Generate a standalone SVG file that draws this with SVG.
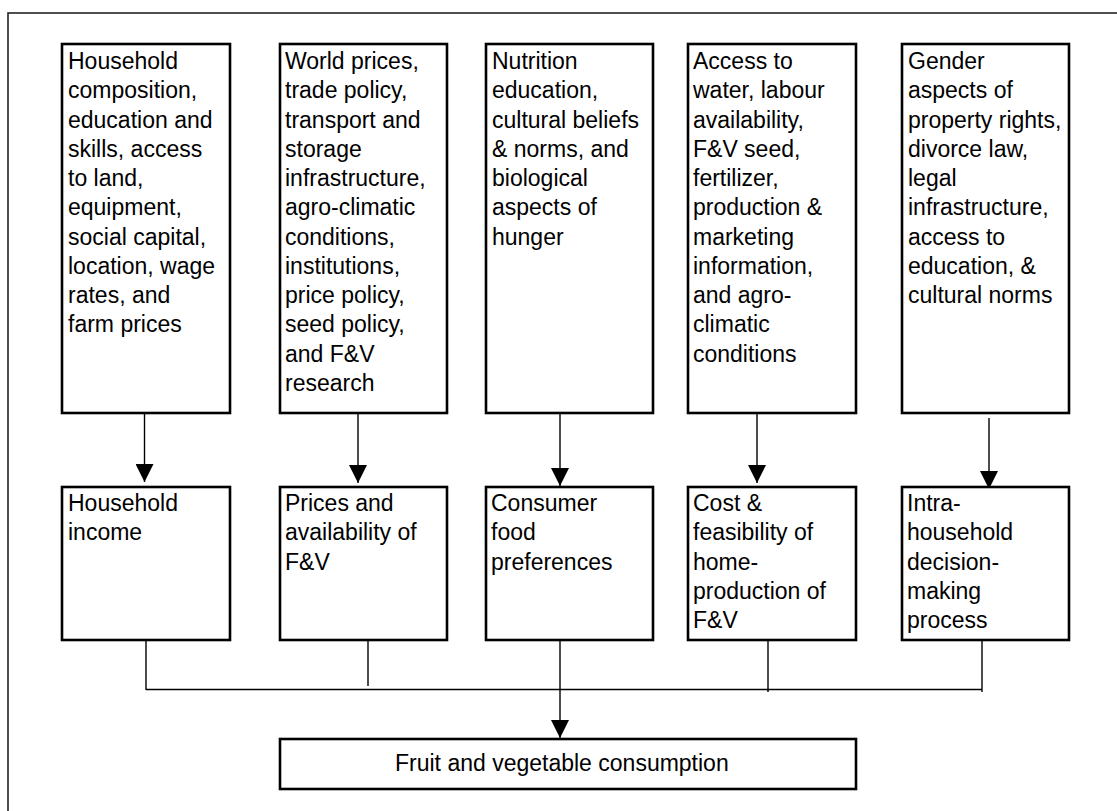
<svg xmlns="http://www.w3.org/2000/svg" width="1117" height="811" viewBox="0 0 1117 811">
<style>
.box{fill:#fff;stroke:#000;stroke-width:2.6}
.frame{fill:none;stroke:#222;stroke-width:1.6}
.t{font-family:"Liberation Sans",Arial,sans-serif;font-size:23px;fill:#000}
.c{fill:none;stroke:#000;stroke-width:1.4}
</style>
<defs>
<marker id="ah" markerUnits="userSpaceOnUse" markerWidth="18" markerHeight="18" refX="18" refY="9" orient="auto" viewBox="0 0 18 18">
<path d="M0,0 L18,9 L0,18 z" fill="#000"/>
</marker>
</defs>
<rect x="0" y="0" width="1117" height="811" fill="#fff"/>
<rect class="frame" x="8" y="13" width="1130" height="820"/>

<g id="connectors">
<line class="c" x1="144.5" y1="414" x2="144.5" y2="482" marker-end="url(#ah)"/>
<line class="c" x1="358" y1="414" x2="358" y2="483" marker-end="url(#ah)"/>
<line class="c" x1="560" y1="414" x2="560" y2="486" marker-end="url(#ah)"/>
<line class="c" x1="757" y1="414" x2="757" y2="483" marker-end="url(#ah)"/>
<line class="c" x1="989" y1="418" x2="989" y2="489" marker-end="url(#ah)"/>
<line class="c" x1="146" y1="640" x2="146" y2="690"/>
<line class="c" x1="368" y1="640" x2="368" y2="686"/>
<line class="c" x1="768" y1="640" x2="768" y2="692"/>
<line class="c" x1="982" y1="640" x2="982" y2="692"/>
<line class="c" x1="146" y1="689.5" x2="982" y2="689.5"/>
<line class="c" x1="560" y1="640" x2="560" y2="738" marker-end="url(#ah)"/>
</g>

<g id="top1">
<rect class="box" x="62" y="44" width="168" height="369"/>
<text class="t" x="68" y="69">
<tspan x="68" dy="0">Household</tspan>
<tspan x="68" dy="29.25">composition,</tspan>
<tspan x="68" dy="29.25">education and</tspan>
<tspan x="68" dy="29.25">skills, access</tspan>
<tspan x="68" dy="29.25">to land,</tspan>
<tspan x="68" dy="29.25">equipment,</tspan>
<tspan x="68" dy="29.25">social capital,</tspan>
<tspan x="68" dy="29.25">location, wage</tspan>
<tspan x="68" dy="29.25">rates, and</tspan>
<tspan x="68" dy="29.25">farm prices</tspan>
</text>
</g>

<g id="top2">
<rect class="box" x="280" y="44" width="167" height="369"/>
<text class="t" x="285" y="69">
<tspan x="285" dy="0">World prices,</tspan>
<tspan x="285" dy="29.25">trade policy,</tspan>
<tspan x="285" dy="29.25">transport and</tspan>
<tspan x="285" dy="29.25">storage</tspan>
<tspan x="285" dy="29.25">infrastructure,</tspan>
<tspan x="285" dy="29.25">agro-climatic</tspan>
<tspan x="285" dy="29.25">conditions,</tspan>
<tspan x="285" dy="29.25">institutions,</tspan>
<tspan x="285" dy="29.25">price policy,</tspan>
<tspan x="285" dy="29.25">seed policy,</tspan>
<tspan x="285" dy="29.25">and F&amp;V</tspan>
<tspan x="285" dy="29.25">research</tspan>
</text>
</g>

<g id="top3">
<rect class="box" x="486" y="44" width="167" height="369"/>
<text class="t" x="492" y="69">
<tspan x="492" dy="0">Nutrition</tspan>
<tspan x="492" dy="29.25">education,</tspan>
<tspan x="492" dy="29.25">cultural beliefs</tspan>
<tspan x="492" dy="29.25">&amp; norms, and</tspan>
<tspan x="492" dy="29.25">biological</tspan>
<tspan x="492" dy="29.25">aspects of</tspan>
<tspan x="492" dy="29.25">hunger</tspan>
</text>
</g>

<g id="top4">
<rect class="box" x="688" y="44" width="168" height="369"/>
<text class="t" x="693" y="69">
<tspan x="693" dy="0">Access to</tspan>
<tspan x="693" dy="29.25">water, labour</tspan>
<tspan x="693" dy="29.25">availability,</tspan>
<tspan x="693" dy="29.25">F&amp;V seed,</tspan>
<tspan x="693" dy="29.25">fertilizer,</tspan>
<tspan x="693" dy="29.25">production &amp;</tspan>
<tspan x="693" dy="29.25">marketing</tspan>
<tspan x="693" dy="29.25">information,</tspan>
<tspan x="693" dy="29.25">and agro-</tspan>
<tspan x="693" dy="29.25">climatic</tspan>
<tspan x="693" dy="29.25">conditions</tspan>
</text>
</g>

<g id="top5">
<rect class="box" x="902" y="44" width="167" height="369"/>
<text class="t" x="908" y="69">
<tspan x="908" dy="0">Gender</tspan>
<tspan x="908" dy="29.25">aspects of</tspan>
<tspan x="908" dy="29.25">property rights,</tspan>
<tspan x="908" dy="29.25">divorce law,</tspan>
<tspan x="908" dy="29.25">legal</tspan>
<tspan x="908" dy="29.25">infrastructure,</tspan>
<tspan x="908" dy="29.25">access to</tspan>
<tspan x="908" dy="29.25">education, &amp;</tspan>
<tspan x="908" dy="29.25">cultural norms</tspan>
</text>
</g>

<g id="mid1">
<rect class="box" x="62" y="487" width="168" height="153"/>
<text class="t" x="68" y="511">
<tspan x="68" dy="0">Household</tspan>
<tspan x="68" dy="29.25">income</tspan>
</text>
</g>

<g id="mid2">
<rect class="box" x="280" y="487" width="167" height="153"/>
<text class="t" x="285" y="511">
<tspan x="285" dy="0">Prices and</tspan>
<tspan x="285" dy="29.25">availability of</tspan>
<tspan x="285" dy="29.25">F&amp;V</tspan>
</text>
</g>

<g id="mid3">
<rect class="box" x="486" y="487" width="167" height="153"/>
<text class="t" x="491" y="511">
<tspan x="491" dy="0">Consumer</tspan>
<tspan x="491" dy="29.25">food</tspan>
<tspan x="491" dy="29.25">preferences</tspan>
</text>
</g>

<g id="mid4">
<rect class="box" x="688" y="487" width="168" height="153"/>
<text class="t" x="693" y="511">
<tspan x="693" dy="0">Cost &amp;</tspan>
<tspan x="693" dy="29.25">feasibility of</tspan>
<tspan x="693" dy="29.25">home-</tspan>
<tspan x="693" dy="29.25">production of</tspan>
<tspan x="693" dy="29.25">F&amp;V</tspan>
</text>
</g>

<g id="mid5">
<rect class="box" x="902" y="487" width="167" height="153"/>
<text class="t" x="907" y="511">
<tspan x="907" dy="0">Intra-</tspan>
<tspan x="907" dy="29.25">household</tspan>
<tspan x="907" dy="29.25">decision-</tspan>
<tspan x="907" dy="29.25">making</tspan>
<tspan x="907" dy="29.25">process</tspan>
</text>
</g>

<g id="bottom">
<rect class="box" x="280" y="739" width="576" height="50"/>
<text class="t" x="395" y="771">Fruit and vegetable consumption</text>
</g>
</svg>
